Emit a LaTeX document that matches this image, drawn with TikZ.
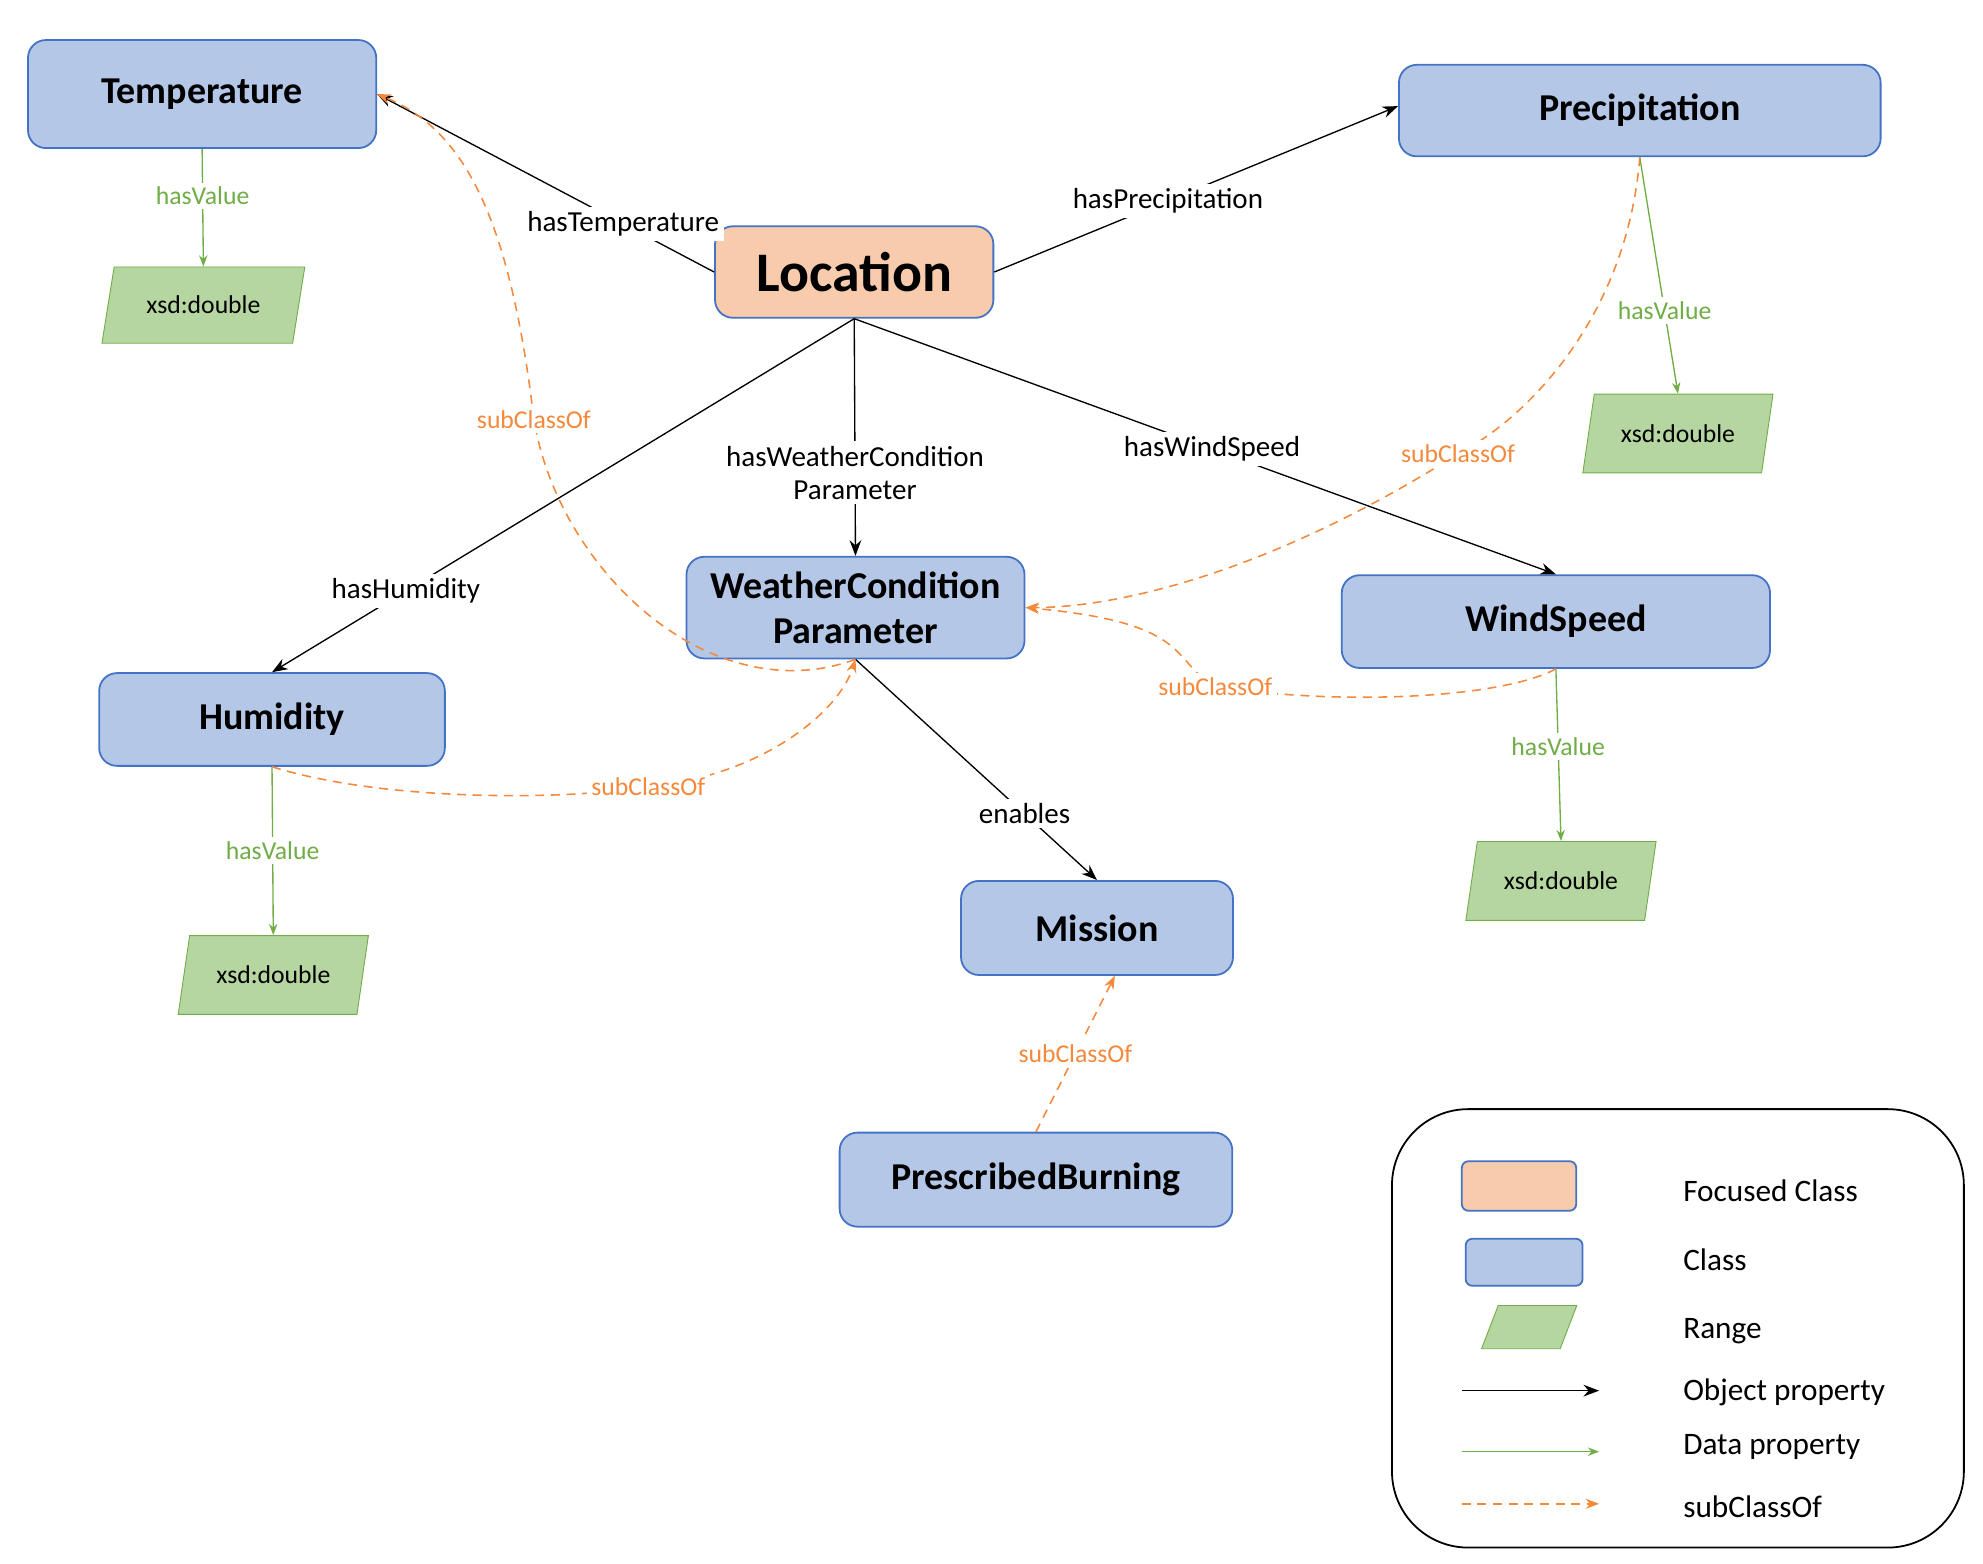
\documentclass[tikz,border=0pt]{standalone}
\usepackage{fontspec}
\setmainfont{Carlito}
\usetikzlibrary{arrows.meta,shapes.geometric}
\definecolor{clsfill}{HTML}{B4C7E7}
\definecolor{clsdraw}{HTML}{4472C4}
\definecolor{focfill}{HTML}{F8CBAD}
\definecolor{rngfill}{HTML}{B5D6A0}
\definecolor{rngdraw}{HTML}{70AD47}
\definecolor{subcol}{HTML}{F4893C}
\tikzstyle{cls} = [rectangle, rounded corners=8pt, draw=clsdraw, fill=clsfill, line width=0.8pt, font=\fontsize{17}{20}\selectfont\bfseries, align=center]
\tikzstyle{focus} = [cls, fill=focfill, font=\fontsize{25}{28}\selectfont\bfseries]
\tikzstyle{rng} = [trapezium, trapezium left angle=75, trapezium right angle=105, trapezium stretches=true, draw=rngdraw, fill=rngfill, font=\fontsize{11.5}{13}\selectfont]
\tikzstyle{obj} = [draw=black, line width=0.6pt, -{Stealth[length=7pt]}]
\tikzstyle{dat} = [draw=rngdraw, line width=0.6pt, -{Stealth[length=5pt]}]
\tikzstyle{sub} = [draw=subcol, line width=0.7pt, dash pattern=on 4pt off 3pt, -{Stealth[length=6pt]}]
\tikzstyle{olab} = [fill=white, font=\fontsize{13}{15}\selectfont, align=center, inner sep=2pt]
\tikzstyle{dlab} = [fill=white, text=rngdraw, font=\fontsize{11.5}{13}\selectfont, inner sep=2pt]
\tikzstyle{slab} = [fill=white, text=subcol, font=\fontsize{11.5}{13}\selectfont, inner sep=2pt]
\begin{document}
\begin{tikzpicture}[x=0.02cm, y=-0.02cm]
\useasboundingbox (0,0) rectangle (1560,1230);
% classes
\node (loc) [focus, minimum width=4.38cm, minimum height=1.44cm] at (672,214) {Location};
\node (temp) [cls, minimum width=5.48cm, minimum height=1.7cm] at (159,74) {Temperature};
\node (prec) [cls, minimum width=7.58cm, minimum height=1.44cm] at (1290,87) {Precipitation};
\node (wcp) [cls, minimum width=5.32cm, minimum height=1.6cm] at (673,478) {WeatherCondition\\Parameter};
\node (wind) [cls, minimum width=6.74cm, minimum height=1.46cm] at (1224,489) {WindSpeed};
\node (hum) [cls, minimum width=5.44cm, minimum height=1.46cm] at (214,566) {Humidity};
\node (mis) [cls, minimum width=4.28cm, minimum height=1.48cm] at (863,730) {Mission};
\node (burn) [cls, minimum width=6.18cm, minimum height=1.48cm] at (815,928) {PrescribedBurning};
% ranges
\node (tval) [rng, minimum width=3.2cm, minimum height=1.2cm] at (160,240) {xsd:double};
\node (pval) [rng, minimum width=3cm, minimum height=1.24cm] at (1320,341) {xsd:double};
\node (wval) [rng, minimum width=3cm, minimum height=1.24cm] at (1228,693) {xsd:double};
\node (hval) [rng, minimum width=3cm, minimum height=1.24cm] at (215,767) {xsd:double};
% object properties
\draw [obj] (loc.west) -- node[olab, pos=0.27] {hasTemperature} (temp.east);
\draw [obj] (loc.east) -- node[olab, pos=0.43] {hasPrecipitation} ([yshift=2pt]prec.west);
\draw [obj] (loc.south) -- node[olab, pos=0.65] {hasWeatherCondition\\Parameter} (wcp.north);
\draw [obj] (loc.south) -- node[olab, pos=0.77] {hasHumidity} (hum.north);
\draw [obj] (loc.south) -- node[olab, pos=0.51] {hasWindSpeed} (wind.north);
\draw [obj] (wcp.south) -- node[olab, pos=0.7] {enables} (mis.north);
% data properties
\draw [dat] (temp.south) -- node[dlab, pos=0.4] {hasValue} (tval.north);
\draw [dat] (prec.south) -- node[dlab, pos=0.65] {hasValue} (pval.north);
\draw [dat] (wind.south) -- node[dlab, pos=0.45] {hasValue} (wval.north);
\draw [dat] (hum.south) -- node[dlab, pos=0.5] {hasValue} (hval.north);
% subClassOf
\draw [sub] (wcp.south) .. controls (560,560) and (440,450) .. (420,330)
  node[slab] {subClassOf} .. controls (400,160) and (360,100) .. (temp.east);
\draw [sub] (hum.south) .. controls (300,630) and (440,630) .. (510,619)
  node[slab] {subClassOf} .. controls (600,610) and (660,560) .. (wcp.south);
\draw [sub] (prec.south) .. controls (1280,250) and (1200,330) .. (1147,357)
  node[slab] {subClassOf} .. controls (1000,450) and (880,478) .. (wcp.east);
\draw [sub] (wind.south) .. controls (1180,550) and (1050,555) .. (956,540)
  node[slab] {subClassOf} .. controls (920,520) and (940,490) .. (wcp.east);
\draw [sub] (burn.north) -- node[slab] {subClassOf} ([xshift=8pt]mis.south);
% legend
\node (legend) [draw, rounded corners=1.2cm, line width=0.8pt, minimum width=9cm, minimum height=6.9cm] at (1320,1045) {};
\node (lfoc) [cls, fill=focfill, rounded corners=3pt, minimum width=1.8cm, minimum height=0.78cm] at (1195,933) {};
\node (lcls) [cls, rounded corners=3pt, minimum width=1.84cm, minimum height=0.74cm] at (1199,993) {};
\node (lrng) [rng, minimum width=1.5cm, minimum height=0.68cm] at (1203,1044) {};
\coordinate (oa) at (1150,1094); \coordinate (ob) at (1258,1094);
\coordinate (da) at (1150,1142); \coordinate (db) at (1258,1142);
\coordinate (sa) at (1150,1183); \coordinate (sb) at (1258,1183);
\draw [obj] (oa) -- (ob);
\draw [dat] (da) -- (db);
\draw [sub] (sa) -- (sb);
\foreach \y/\t in {937/Focused Class, 991/Class, 1047/Range, 1095/Object property, 1138/Data property, 1185/subClassOf}
  \node [anchor=west, font=\fontsize{14}{16}\selectfont] at (1318,\y) {\t};
\end{tikzpicture}
\end{document}
